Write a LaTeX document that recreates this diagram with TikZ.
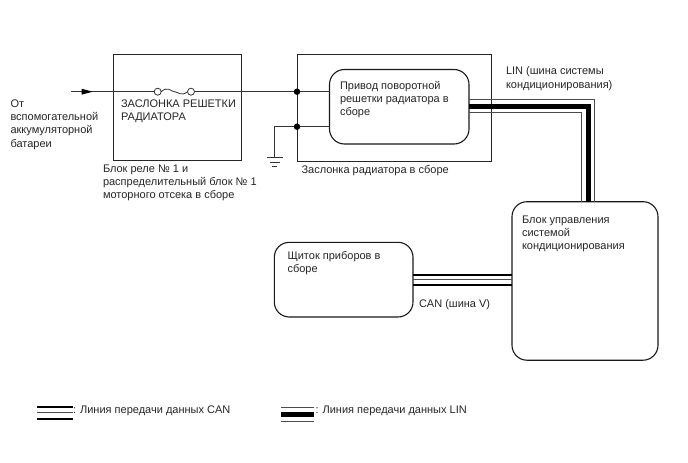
\documentclass[tikz,border=0pt]{standalone}
\usepackage{fontspec}
\setmainfont{Liberation Sans}
\usetikzlibrary{arrows.meta}
\tikzset{
  x=1pt,y=-1pt,
  every node/.style={inner sep=0pt,outer sep=0pt},
  label text/.style={anchor=north west,align=left,font=\fontsize{11}{13.3}\selectfont,text=black!85},
  roundbox/.style={draw=black!90,line width=1.1pt,rounded corners=15pt},
  wire/.style={draw=black!80,line width=0.8pt},
  thinbus/.style={draw=black!70,line width=0.8pt},
  heavybus/.style={draw=black,line width=5pt},
  canbus/.style={draw=black,line width=2.2pt},
  joint/.style={circle,fill=black,minimum size=6.5pt},
  fuse end/.style={circle,draw=black!80,line width=0.8pt,fill=white,minimum size=7pt},
}
\begin{document}
\begin{tikzpicture}
\useasboundingbox (0,0) rectangle (688,463);
\fill[white] (0,0) rectangle (688,463);

% Enclosures
\node[draw=black!85,line width=1pt,minimum width=127.5pt,minimum height=106.5pt,anchor=north west] (relay) at (113.5,54) {};
\node[draw=black!85,line width=1pt,minimum width=194pt,minimum height=107.5pt,anchor=north west] (flap) at (297,54) {};

% Control units
\node[roundbox,minimum width=139.5pt,minimum height=74.5pt,anchor=north west] (act) at (329.5,69.5) {};
\node[roundbox,minimum width=146pt,minimum height=158.5pt,anchor=north west] (ecu) at (512,201.7) {};
\node[roundbox,minimum width=138.7pt,minimum height=74.7pt,anchor=north west] (meter) at (274.3,242.3) {};

% Supply wire and fuse
\coordinate (supply) at (71,91.7);
\node[joint] (j1) at (297,91.7) {};
\node[joint] (j2) at (297,126.7) {};
\node[fuse end] (f1) at (157.7,91.7) {};
\node[fuse end] (f2) at (191,91.7) {};
\draw[wire] (supply) -- (f1);
\draw[wire] (f1.east) .. controls (168,85.5) and (171,91.7) .. (174.5,91.7) .. controls (178,91.7) and (181,97) .. (f2.west);
\draw[wire] (f2) -- (j1);
\draw[wire] (j1) -- (act.west |- j1);
\draw[wire] (j2) -- (act.west |- j2);
\fill[black] (81.5,88.7) -- (92.7,91.7) -- (81.5,94.7) -- cycle;

% Ground
\coordinate (gndtop) at (274,126.7);
\coordinate (gnd) at (274,157.5);
\draw[wire] (j2) -- (gndtop) -- (gnd);
\draw[wire] (266.7,157.5) -- (283.3,157.5);
\draw[wire] (270,162) -- (280,162);
\draw[wire] (272.3,166.7) -- (277.3,166.7);

% LIN bus
\coordinate (lin1) at (act.east |- 0,99.7);
\coordinate (lin2) at (act.east |- 0,106.3);
\coordinate (lin3) at (act.east |- 0,112.7);
\draw[thinbus] (lin1) -- (594.7,99.7) -- (594.7,201.7);
\draw[heavybus] (lin2) -- (588.3,106.3) -- (588.3,201.7);
\draw[thinbus] (lin3) -- (581.7,112.7) -- (581.7,201.7);

% CAN bus
\draw[canbus] (meter.east |- 0,274.7) -- (ecu.west |- 0,274.7);
\draw[thinbus] (meter.east |- 0,279.5) -- (ecu.west |- 0,279.5);
\draw[canbus] (meter.east |- 0,285) -- (ecu.west |- 0,285);

% Labels
\node[label text] (t1) at (10.5,99.5) {От\\вспомогательной\\аккумуляторной\\батареи};
\node[label text] (t2) at (121,99.5) {ЗАСЛОНКА РЕШЕТКИ\\РАДИАТОРА};
\node[label text] (t3) at (103,164.5) {Блок реле № 1 и\\распределительный блок № 1\\моторного отсека в сборе};
\node[label text] (t4) at (340,81) {Привод поворотной\\решетки радиатора в\\сборе};
\node[label text] (t5) at (301.5,165.5) {Заслонка радиатора в сборе};
\node[label text] (t6) at (506,67) {LIN (шина системы\\кондиционирования)};
\node[label text] (t7) at (522,215.5) {Блок управления\\системой\\кондиционирования};
\node[label text] (t8) at (287.5,251.5) {Щиток приборов в\\сборе};
\node[label text] (t9) at (419,299.5) {CAN (шина V)};

% Legend
\draw[canbus] (37,407.3) -- (72.7,407.3);
\draw[thinbus] (37,412.7) -- (72.7,412.7);
\draw[canbus] (37,419.3) -- (72.7,419.3);
\node[label text] (t10) at (73,405.5) {: Линия передачи данных CAN};
\draw[thinbus,line width=1.2pt] (281,407.3) -- (314,407.3);
\draw[black,line width=4.5pt] (281,414.7) -- (314,414.7);
\draw[thinbus,line width=1.2pt] (281,421.7) -- (314,421.7);
\node[label text] (t11) at (315.5,406) {: Линия передачи данных LIN};
\end{tikzpicture}
\end{document}
